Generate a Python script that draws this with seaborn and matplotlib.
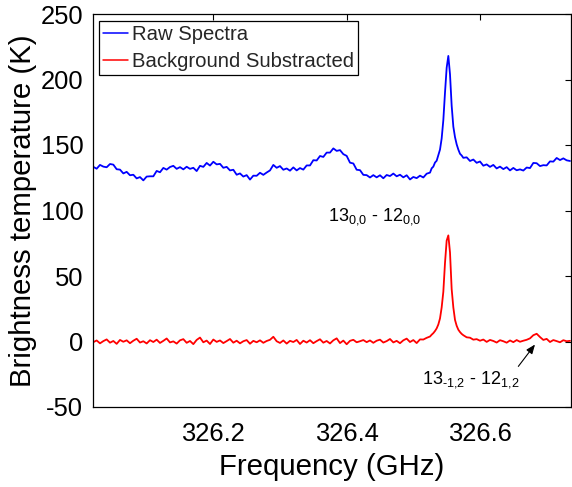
import numpy as np
import pandas as pd
import matplotlib
matplotlib.use("Agg")
import matplotlib.pyplot as plt
import seaborn as sns

# ---------------- data ----------------
freq_ghz = [
    326.020, 326.025, 326.030, 326.035, 326.040, 326.045, 326.050, 326.055, 326.060, 326.065,
    326.070, 326.075, 326.080, 326.085, 326.090, 326.095, 326.100, 326.105, 326.110, 326.115,
    326.120, 326.125, 326.130, 326.135, 326.140, 326.145, 326.150, 326.155, 326.160, 326.165,
    326.170, 326.175, 326.180, 326.185, 326.190, 326.195, 326.200, 326.205, 326.210, 326.215,
    326.220, 326.225, 326.230, 326.235, 326.240, 326.245, 326.250, 326.255, 326.260, 326.265,
    326.270, 326.275, 326.280, 326.285, 326.290, 326.295, 326.300, 326.305, 326.310, 326.315,
    326.320, 326.325, 326.330, 326.335, 326.340, 326.345, 326.350, 326.355, 326.360, 326.365,
    326.370, 326.375, 326.380, 326.385, 326.390, 326.395, 326.400, 326.405, 326.410, 326.415,
    326.420, 326.425, 326.430, 326.435, 326.440, 326.445, 326.450, 326.455, 326.460, 326.465,
    326.470, 326.475, 326.480, 326.485, 326.490, 326.495, 326.500, 326.505, 326.510, 326.515,
    326.520, 326.525,
    326.5275, 326.530, 326.5325, 326.535, 326.5375, 326.540, 326.5425, 326.545, 326.5475, 326.550,
    326.5525, 326.555, 326.5575, 326.560, 326.5625, 326.565, 326.5675, 326.570, 326.5725,
    326.575, 326.580, 326.585, 326.590, 326.595, 326.600, 326.605, 326.610, 326.615, 326.620,
    326.625, 326.630, 326.635, 326.640, 326.645, 326.650, 326.655, 326.660, 326.665, 326.670,
    326.675, 326.680, 326.685, 326.690, 326.695, 326.700, 326.705, 326.710, 326.715, 326.720,
    326.725, 326.730, 326.735,
]

raw_spectra = [
    133.3, 131.9, 134.8, 133.5, 133.0, 135.5, 135.0, 131.5, 131.2, 128.3,
    129.5, 126.9, 127.3, 124.5, 125.5, 123.0, 125.9, 126.1, 126.1, 130.2,
    129.2, 132.5, 131.2, 133.2, 134.1, 131.8, 133.1, 131.4, 133.4, 131.8,
    132.6, 130.1, 134.1, 133.3, 136.3, 134.3, 137.2, 135.2, 135.6, 132.6,
    133.3, 130.6, 131.1, 127.3, 128.3, 125.9, 127.0, 123.6, 126.6, 126.5,
    128.8, 127.2, 129.0, 130.6, 134.8, 132.6, 133.9, 131.1, 132.1, 130.4,
    132.9, 130.6, 132.4, 131.2, 134.4, 134.4, 138.4, 138.2, 141.6, 140.9,
    144.2, 144.2, 147.4, 145.5, 146.1, 143.0, 141.7, 136.5, 135.9, 131.1,
    130.8, 127.2, 127.0, 125.2, 127.0, 125.3, 126.9, 124.6, 127.1, 126.3,
    128.2, 126.1, 127.3, 125.3, 126.9, 123.7, 125.6, 124.7, 126.6, 125.2,
    128.1, 128.9,
    132.2, 133.5, 136.6, 138.0, 142.3, 146.5, 155.0, 169.0, 190.0, 209.0,
    218.0, 204.0, 180.0, 164.0, 156.0, 150.5, 146.5, 143.3, 142.0,
    140.2, 140.6, 137.8, 138.9, 136.4, 137.4, 134.2, 135.2, 133.3, 134.8,
    132.1, 133.5, 131.6, 133.1, 130.6, 132.5, 130.7, 131.4, 130.5, 132.8,
    132.4, 136.3, 136.1, 133.9, 134.6, 134.4, 137.5, 137.3, 140.1, 138.5,
    139.8, 138.3, 137.8,
]

background_subtracted = [
    -0.5, 0.8, -1.4, 0.3, 1.6, -0.9, 0.4, -1.8, 1.2, -0.2,
    0.9, -1.3, 0.6, 2.1, -0.8, 0.2, -1.5, 1.0, -0.4, 1.4,
    -1.1, 0.5, 2.3, -0.7, 0.1, -1.6, 0.9, 1.8, -1.0, 0.4,
    -2.0, 1.2, 3.0, -0.6, 0.7, -1.9, 1.5, -0.3, 0.8, -1.2,
    0.3, 1.9, -0.9, 0.6, -1.4, 0.2, 1.1, -1.7, 0.5, -0.6,
    0.9, -1.0, 0.4, 1.3, 3.6, 0.2, -1.1, 0.8, -1.6, 0.5,
    -0.4, 1.2, -1.9, 0.6, -0.8, 1.0, -1.3, 0.3, 1.7, -0.9,
    0.4, -1.5, 0.9, 2.4, -1.2, 0.7, -2.1, 0.5, 1.3, -0.6,
    0.2, 1.1, -0.5, 0.8, -1.0, 0.6, 1.4, -0.8, 0.3, 1.9,
    -0.7, 0.5, -1.3, 0.9, 2.2, -0.4, 1.1, -1.2, 1.6, 1.5,
    2.8, 3.8,
    5.2, 6.4, 8.0, 10.0, 13.0, 17.6, 26.0, 38.0, 60.0, 77.0,
    81.0, 68.0, 40.0, 26.0, 16.5, 12.0, 9.0, 7.2, 5.8,
    4.8, 3.2, 2.9, 1.4, 1.8, 0.6, 1.5, -0.3, 1.2, 0.4,
    -0.8, 1.0, 0.2, -0.9, 0.8, -0.5, 1.1, -0.2, 0.6, 1.3,
    2.4, 4.8, 5.9, 3.4, 1.2, 2.0, -0.4, 1.1, 0.3, -0.6,
    1.0, 0.2, 0.5,
]

series_labels = ["Raw Spectra", "Background Substracted"]
x_ticks = [326.2, 326.4, 326.6]
x_tick_labels = ["326.2", "326.4", "326.6"]
y_ticks = [-50, 0, 50, 100, 150, 200, 250]
y_tick_labels = ["-50", "0", "50", "100", "150", "200", "250"]

main_line_label = r"13$_{0{,}0}$ - 12$_{0{,}0}$"
weak_line_label = r"13$_{\text{-}1{,}2}$ - 12$_{1{,}2}$"
main_label_pos = (326.442, 92.0)
weak_label_pos = (326.586, -32.0)
weak_line_freq = 326.6825
weak_line_arrow_tip = -2.3
weak_line_arrow_tail = (326.6575, -19.0)

df = pd.DataFrame({
    "freq": freq_ghz,
    "raw": raw_spectra,
    "sub": background_subtracted,
})

# ---------------- style ----------------
sns.set_style("white")
plt.rcParams["font.family"] = ["Liberation Sans", "DejaVu Sans"]
plt.rcParams["mathtext.fontset"] = "custom"
plt.rcParams["mathtext.rm"] = "Liberation Sans"
plt.rcParams["mathtext.it"] = "Liberation Sans:italic"
plt.rcParams["mathtext.bf"] = "Liberation Sans:bold"
plt.rcParams["mathtext.default"] = "regular"

fig = plt.figure(figsize=(5.72, 4.87), dpi=100)
ax = fig.add_axes([93 / 572, 80 / 487, 478 / 572, 393 / 487])

sns.lineplot(data=df, x="freq", y="raw", ax=ax, color="#0000ff",
             linewidth=1.3, label=series_labels[0])
sns.lineplot(data=df, x="freq", y="sub", ax=ax, color="#ff0000",
             linewidth=1.3, label=series_labels[1])

ax.set_xlim(326.0195, 326.7365)
ax.set_ylim(-50, 250)
ax.set_xticks(x_ticks)
ax.set_xticklabels(x_tick_labels)
ax.set_yticks(y_ticks)
ax.set_yticklabels(y_tick_labels)

ax.tick_params(axis="both", which="major", direction="in", length=4,
               width=0.8, color="black", labelsize=18.4, labelcolor="black",
               top=True, right=True)
ax.tick_params(axis="x", pad=10.5)
ax.tick_params(axis="y", pad=7)
for sp in ax.spines.values():
    sp.set_color("black")
    sp.set_linewidth(0.9)
    sp.set_visible(True)

ax.set_xlabel("Frequency (GHz)", fontsize=21.2, color="black", labelpad=5.5)
ax.set_ylabel("Brightness temperature (K)", fontsize=21.2, color="black")
ax.yaxis.set_label_coords(-0.117, 0.5)

leg = ax.legend(loc="upper left", bbox_to_anchor=(0.0126, 0.982),
                fontsize=14.6, frameon=True, fancybox=False,
                borderpad=0.2, labelspacing=0.4, handlelength=1.25,
                handletextpad=0.16, borderaxespad=0.0)
leg.get_frame().set_edgecolor("black")
leg.get_frame().set_linewidth(0.9)
leg.get_frame().set_facecolor("white")
leg.get_frame().set_alpha(1.0)
for h in leg.get_lines():
    h.set_linewidth(1.1)

ax.text(main_label_pos[0], main_label_pos[1], main_line_label,
        ha="center", va="baseline", fontsize=13, color="black")
ax.text(weak_label_pos[0], weak_label_pos[1], weak_line_label,
        ha="center", va="baseline", fontsize=13, color="black")
ax.annotate("", xy=(weak_line_freq, weak_line_arrow_tip),
            xytext=weak_line_arrow_tail,
            arrowprops=dict(arrowstyle="-|>,head_length=0.55,head_width=0.22",
                            color="black", lw=0.8, shrinkA=0, shrinkB=0,
                            mutation_scale=10))

fig.savefig("out.png", dpi=100, facecolor="white")
